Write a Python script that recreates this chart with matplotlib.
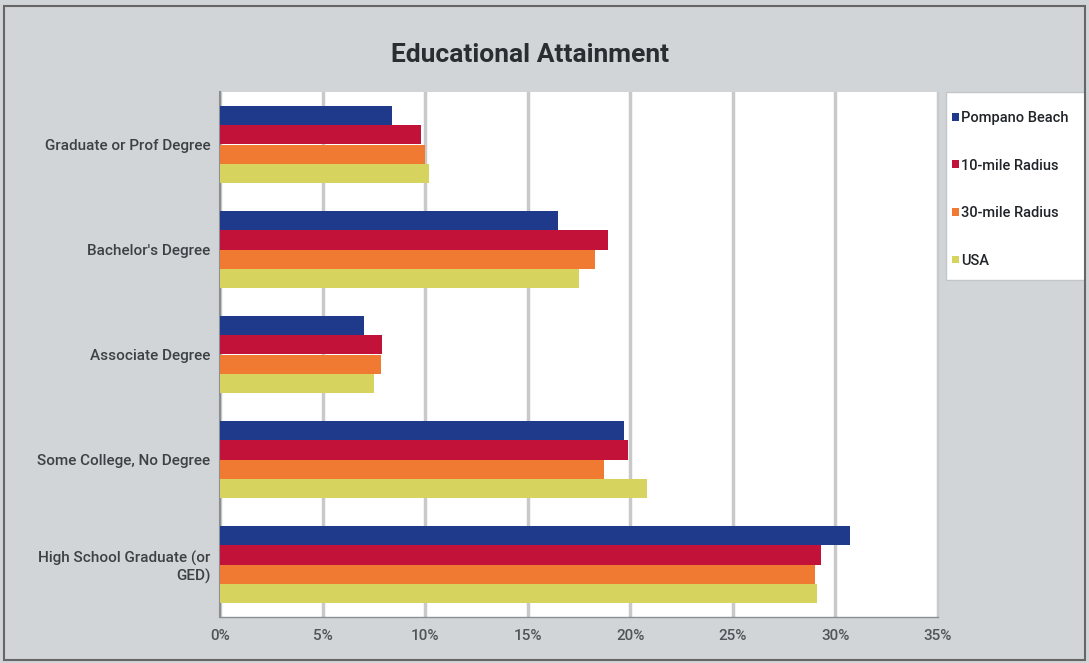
import numpy as np
import matplotlib
matplotlib.use("Agg")
import matplotlib.pyplot as plt
from matplotlib.patches import Rectangle

# data
categories = ["Graduate or Prof Degree", "Bachelor's Degree", "Associate Degree",
              "Some College, No Degree", "High School Graduate (or\nGED)"]
series_names = ["Pompano Beach", "10-mile Radius", "30-mile Radius", "USA"]
pompano = [8.4, 16.5, 7.0, 19.7, 30.7]
radius10 = [9.8, 18.9, 7.9, 19.9, 29.3]
radius30 = [10.0, 18.3, 7.85, 18.7, 29.0]
usa = [10.2, 17.5, 7.5, 20.8, 29.1]
x_ticks = [0, 5, 10, 15, 20, 25, 30, 35]

colors = ["#1f3a8a", "#c3123a", "#f07a32", "#d6d45e"]
bg = "#d1d5d8"
txt = "#3c4146"

plt.rcParams['font.family'] = ['Roboto', 'DejaVu Sans']

fig = plt.figure(figsize=(10.89, 6.63), dpi=100, facecolor=bg)
W, H = 1089, 663
ax = fig.add_axes([220 / W, 1 - 617 / H, (938 - 220) / W, (617 - 92) / H])
ax.set_facecolor("white")

all_series = [pompano, radius10, radius30, usa]
n = len(all_series)
bar_h = 0.184
y = np.arange(len(categories))
for i, (vals, name, c) in enumerate(zip(all_series, series_names, colors)):
    offs = (i - (n - 1) / 2) * bar_h
    ax.barh(y + offs, vals, height=bar_h, color=c, label=name, zorder=3)

ax.set_xlim(0, 35)
ax.set_ylim(len(categories) - 0.5, -0.5)
ax.set_xticks(x_ticks)
ax.set_xticklabels([f"{t}%" for t in x_ticks], fontsize=11, color="#50555a",
                   fontweight="medium")
ax.set_yticks(y)
ax.set_yticklabels(categories, fontsize=11, color=txt, fontweight="medium")
ax.tick_params(axis='y', length=0, pad=7)
ax.tick_params(axis='x', length=0, pad=9)
ax.xaxis.grid(True, color="#c9c9c9", linewidth=2.5, zorder=0)
for s in ax.spines.values():
    s.set_color("#c9c9c9")
    s.set_linewidth(1)
ax.spines['left'].set_color("#8a8f94")
ax.spines['left'].set_linewidth(1.5)
ax.spines['bottom'].set_color("#8a8f94")
ax.spines['top'].set_visible(False)

fig.text(530 / W, 1 - 55 / H, "Educational Attainment", ha="center", va="center",
         fontsize=19, fontweight="bold", color="#2a2e32")

# legend box drawn by hand, entries placed inside it
fig.patches.append(Rectangle((946 / W, 1 - 280 / H), 139 / W, 188 / H,
                             transform=fig.transFigure, facecolor="white",
                             edgecolor="#c2c6c9", linewidth=1, zorder=1))
leg = fig.legend(loc="upper left", bbox_to_anchor=(952 / W, 1 - 111 / H),
                 handlelength=0.45, handleheight=0.45,
                 handletextpad=0.15, labelspacing=2.3, borderpad=0,
                 borderaxespad=0, frameon=False,
                 prop={'weight': 'medium', 'size': 10.5})
for t in leg.get_texts():
    t.set_color("#202428")

# outer border of the scanned chart
fig.patches.append(Rectangle((4 / W, 1 - 660 / H), 1081 / W, 654 / H,
                             transform=fig.transFigure, fill=False,
                             edgecolor="#666666", linewidth=1.5))

fig.savefig("out.png", dpi=100, facecolor=bg)
